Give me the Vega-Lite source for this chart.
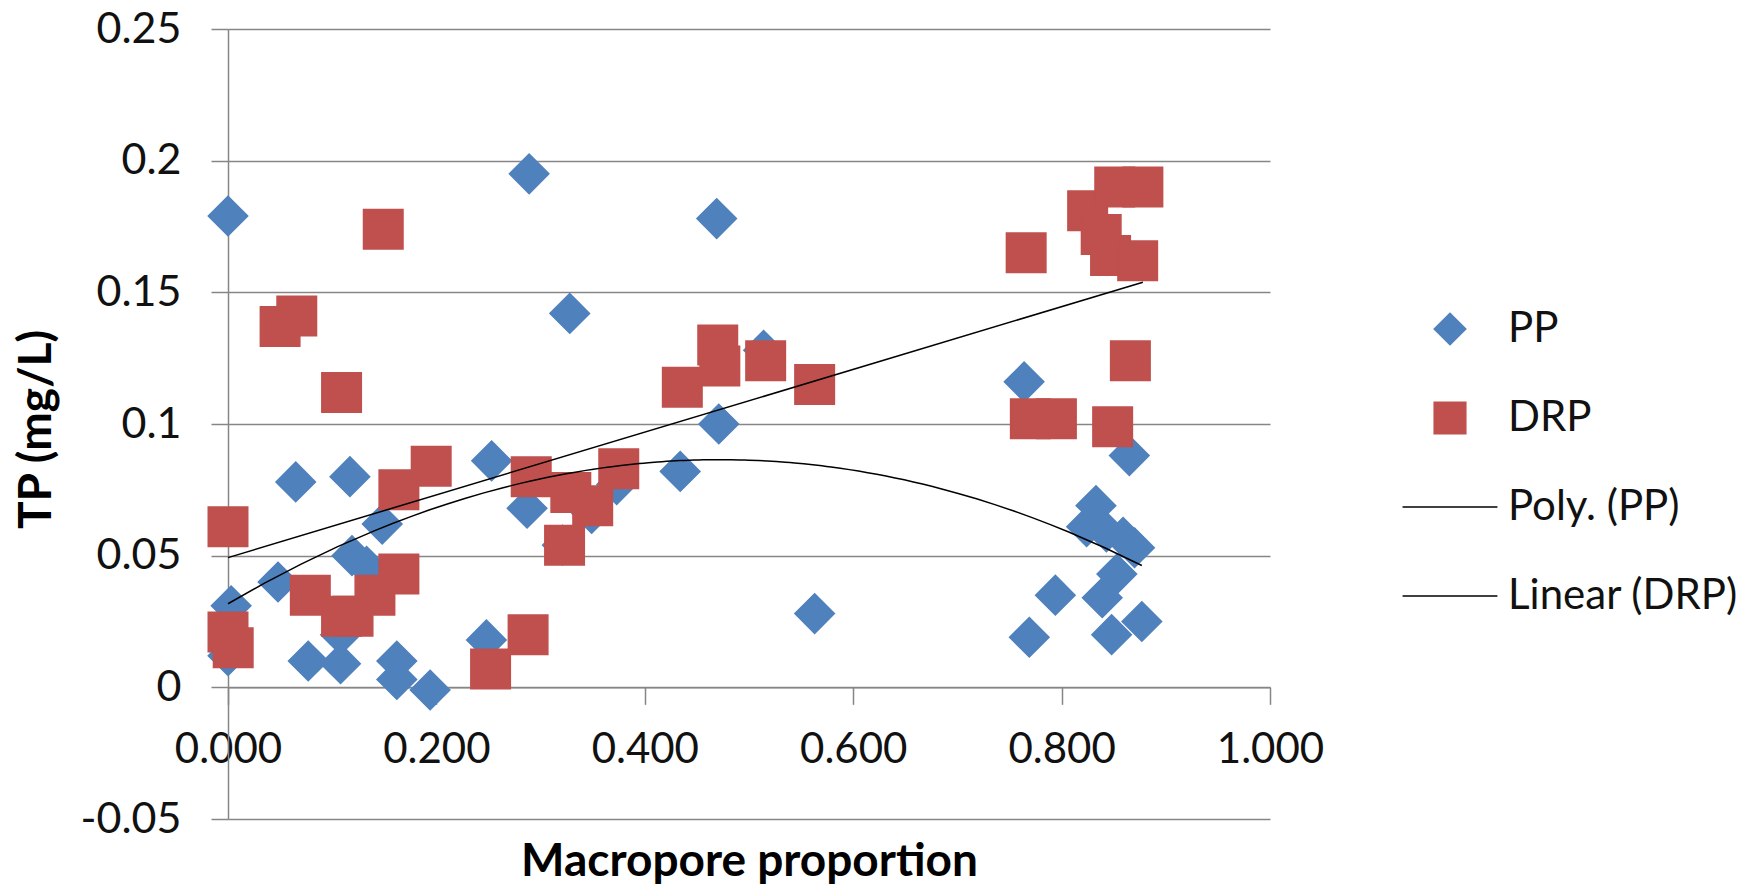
{
  "$schema": "https://vega.github.io/schema/vega-lite/v6.json",
  "width": 1042,
  "height": 790,
  "autosize": {"type": "none"},
  "padding": {"left": 228, "top": 29, "right": 488, "bottom": 67},
  "background": "white",
  "config": {
    "view": {"stroke": null},
    "font": "Lato",
    "legend": {
      "title": null, "orient": "none", "legendX": 1201, "legendY": 279,
      "labelFont": "Lato", "labelFontSize": 42, "labelColor": "#111111", "labelLimit": 0,
      "symbolSize": 1000, "symbolStrokeWidth": 1.5, "rowPadding": 47, "labelOffset": 37, "symbolOpacity": 1
    }
  },
  "data": {"values": [
    {"series": "PP", "x": 0.000, "y": 0.179},
    {"series": "PP", "x": 0.289, "y": 0.195},
    {"series": "PP", "x": 0.328, "y": 0.142},
    {"series": "PP", "x": 0.469, "y": 0.178},
    {"series": "PP", "x": 0.514, "y": 0.128},
    {"series": "PP", "x": 0.471, "y": 0.100},
    {"series": "PP", "x": 0.764, "y": 0.116},
    {"series": "PP", "x": 0.065, "y": 0.078},
    {"series": "PP", "x": 0.117, "y": 0.080},
    {"series": "PP", "x": 0.253, "y": 0.086},
    {"series": "PP", "x": 0.287, "y": 0.068},
    {"series": "PP", "x": 0.349, "y": 0.066},
    {"series": "PP", "x": 0.373, "y": 0.077},
    {"series": "PP", "x": 0.321, "y": 0.054},
    {"series": "PP", "x": 0.148, "y": 0.062},
    {"series": "PP", "x": 0.119, "y": 0.050},
    {"series": "PP", "x": 0.133, "y": 0.046},
    {"series": "PP", "x": 0.048, "y": 0.040},
    {"series": "PP", "x": 0.003, "y": 0.031},
    {"series": "PP", "x": 0.000, "y": 0.012},
    {"series": "PP", "x": 0.077, "y": 0.010},
    {"series": "PP", "x": 0.108, "y": 0.009},
    {"series": "PP", "x": 0.108, "y": 0.020},
    {"series": "PP", "x": 0.162, "y": 0.010},
    {"series": "PP", "x": 0.162, "y": 0.003},
    {"series": "PP", "x": 0.194, "y": -0.001},
    {"series": "PP", "x": 0.248, "y": 0.018},
    {"series": "PP", "x": 0.434, "y": 0.082},
    {"series": "PP", "x": 0.563, "y": 0.028},
    {"series": "PP", "x": 0.769, "y": 0.019},
    {"series": "PP", "x": 0.794, "y": 0.035},
    {"series": "PP", "x": 0.865, "y": 0.088},
    {"series": "PP", "x": 0.833, "y": 0.069},
    {"series": "PP", "x": 0.824, "y": 0.061},
    {"series": "PP", "x": 0.843, "y": 0.059},
    {"series": "PP", "x": 0.859, "y": 0.057},
    {"series": "PP", "x": 0.870, "y": 0.053},
    {"series": "PP", "x": 0.853, "y": 0.043},
    {"series": "PP", "x": 0.839, "y": 0.034},
    {"series": "PP", "x": 0.848, "y": 0.020},
    {"series": "PP", "x": 0.877, "y": 0.025},
    {"series": "DRP", "x": 0.149, "y": 0.174},
    {"series": "DRP", "x": 0.066, "y": 0.141},
    {"series": "DRP", "x": 0.050, "y": 0.137},
    {"series": "DRP", "x": 0.109, "y": 0.112},
    {"series": "DRP", "x": 0.000, "y": 0.061},
    {"series": "DRP", "x": 0.164, "y": 0.075},
    {"series": "DRP", "x": 0.195, "y": 0.084},
    {"series": "DRP", "x": 0.291, "y": 0.080},
    {"series": "DRP", "x": 0.329, "y": 0.074},
    {"series": "DRP", "x": 0.350, "y": 0.069},
    {"series": "DRP", "x": 0.375, "y": 0.083},
    {"series": "DRP", "x": 0.323, "y": 0.054},
    {"series": "DRP", "x": 0.079, "y": 0.035},
    {"series": "DRP", "x": 0.109, "y": 0.027},
    {"series": "DRP", "x": 0.120, "y": 0.027},
    {"series": "DRP", "x": 0.141, "y": 0.035},
    {"series": "DRP", "x": 0.164, "y": 0.043},
    {"series": "DRP", "x": 0.000, "y": 0.021},
    {"series": "DRP", "x": 0.005, "y": 0.015},
    {"series": "DRP", "x": 0.252, "y": 0.007},
    {"series": "DRP", "x": 0.288, "y": 0.020},
    {"series": "DRP", "x": 0.766, "y": 0.165},
    {"series": "DRP", "x": 0.470, "y": 0.130},
    {"series": "DRP", "x": 0.472, "y": 0.122},
    {"series": "DRP", "x": 0.436, "y": 0.114},
    {"series": "DRP", "x": 0.516, "y": 0.124},
    {"series": "DRP", "x": 0.563, "y": 0.115},
    {"series": "DRP", "x": 0.770, "y": 0.102},
    {"series": "DRP", "x": 0.795, "y": 0.102},
    {"series": "DRP", "x": 0.849, "y": 0.099},
    {"series": "DRP", "x": 0.866, "y": 0.124},
    {"series": "DRP", "x": 0.825, "y": 0.181},
    {"series": "DRP", "x": 0.851, "y": 0.190},
    {"series": "DRP", "x": 0.878, "y": 0.190},
    {"series": "DRP", "x": 0.838, "y": 0.172},
    {"series": "DRP", "x": 0.847, "y": 0.164},
    {"series": "DRP", "x": 0.873, "y": 0.162}
  ]},
  "encoding": {
    "x": {
      "field": "x", "type": "quantitative",
      "scale": {"domain": [0, 1], "nice": false, "zero": false},
      "axis": {
        "title": "Macropore proportion",
        "values": [0, 0.2, 0.4, 0.6, 0.8, 1.0],
        "format": ".3f",
        "offset": -131.67,
        "grid": false,
        "domainColor": "#868686", "domainWidth": 1.5,
        "tickColor": "#868686", "tickWidth": 1.5, "tickSize": 17,
        "labelFont": "Lato", "labelFontSize": 42, "labelColor": "#111111", "labelPadding": 25,
        "labelFlush": false, "labelOverlap": false,
        "titleFont": "Lato", "titleFontSize": 46, "titleFontWeight": "bold", "titleColor": "#000000",
        "titleBaseline": "alphabetic", "titleY": 188
      }
    },
    "y": {
      "field": "y", "type": "quantitative",
      "scale": {"domain": [-0.05, 0.25], "nice": false, "zero": false},
      "axis": {
        "title": "TP (mg/L)",
        "values": [-0.05, 0, 0.05, 0.1, 0.15, 0.2, 0.25],
        "labelExpr": "toString(round(datum.value * 100) / 100)",
        "grid": true, "gridColor": "#868686", "gridWidth": 1.5,
        "domainColor": "#868686", "domainWidth": 1.5,
        "tickColor": "#868686", "tickWidth": 1.5, "tickSize": 17,
        "labelFont": "Lato", "labelFontSize": 43, "labelColor": "#111111", "labelPadding": 30,
        "labelFlush": false, "labelOverlap": false,
        "titleFont": "Lato", "titleFontSize": 46, "titleFontWeight": "bold", "titleColor": "#000000",
        "titleX": -192, "titleY": 400, "titleBaseline": "middle", "titleAlign": "center", "titleAngle": 270
      }
    }
  },
  "layer": [
    {
      "mark": {"type": "point", "filled": false, "opacity": 1, "size": 1560, "strokeWidth": 1.5},
      "encoding": {
        "color": {
          "field": "series", "type": "nominal",
          "scale": {"domain": ["PP", "DRP", "Poly. (PP)", "Linear (DRP)"], "range": ["#4F81BD", "#C0504D", "#000000", "#000000"]}
        },
        "fill": {
          "field": "series", "type": "nominal",
          "scale": {"domain": ["PP", "DRP", "Poly. (PP)", "Linear (DRP)"], "range": ["#4F81BD", "#C0504D", "#000000", "#000000"]}
        },
        "shape": {
          "field": "series", "type": "nominal",
          "scale": {"domain": ["PP", "DRP", "Poly. (PP)", "Linear (DRP)"], "range": ["diamond", "square", "M-3,0L3,0", "M-3,0L3,0"]}
        }
      }
    },
    {
      "transform": [
        {"filter": "datum.series === 'PP'"},
        {"regression": "y", "on": "x", "method": "poly", "order": 2}
      ],
      "mark": {"type": "line", "color": "#000000", "strokeWidth": 1.5}
    },
    {
      "transform": [
        {"filter": "datum.series === 'DRP'"},
        {"regression": "y", "on": "x", "method": "linear"}
      ],
      "mark": {"type": "line", "color": "#000000", "strokeWidth": 1.5}
    }
  ]
}
